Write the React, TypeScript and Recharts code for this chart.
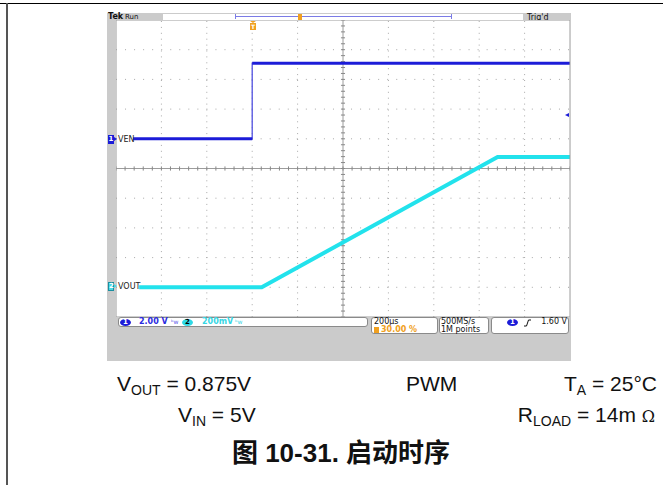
import React from "react";
import { ComposedChart, Line, XAxis, YAxis, ReferenceLine } from "recharts";

// scope settings (10 x 10 divisions)
const xDomain = [-600, 1400]; // µs, 200 µs/div, trigger at 30 %
const ch1Domain = [-12, 8]; // 2.00 V/div, ground 1 div above centre
const ch2Domain = [-0.2, 1.8]; // 200 mV/div, ground 4 div below centre
const divDomain = [-5, 5];

// traces (time in µs, volts)
const venTime = [-525, 0, 0, 1400];
const venVolts = [0, 0, 5.08, 5.08];
const voutTime = [-498, 42, 1081, 1400];
const voutVolts = [0, 0, 0.878, 0.878];

// graticule
const xMajor = [-400, -200, 0, 200, 600, 800, 1000, 1200];
const yMajor = [-4, -3, -2, -1, 1, 2, 3, 4];
const xCentre = 400;
const xSub = Array.from({ length: 51 }, (_, i) => -600 + i * 40);
const ySub = Array.from({ length: 51 }, (_, i) => Math.round((-5 + i * 0.2) * 10) / 10);

const venData = venTime.map((t, i) => ({ t, v: venVolts[i] }));
const voutData = voutTime.map((t, i) => ({ t, v: voutVolts[i] }));

const BLUE = "#1c1cd8";
const CYAN = "#22e2ec";
const ORANGE = "#f0a020";
const DOT = "#a8a8a8";
const EDGE = "#9c9c9c";
const scopeFont = "'DejaVu Sans', sans-serif";

const abs = (left: number, top: number, extra: React.CSSProperties = {}): React.CSSProperties => ({
  position: "absolute",
  left,
  top,
  ...extra,
});

function ScopeText({ x, y, color = "#111", bold = false, size = 8, children }: any) {
  return (
    <div
      style={abs(x, y, {
        fontFamily: scopeFont,
        fontSize: size,
        lineHeight: `${size}px`,
        color,
        fontWeight: bold ? 700 : 400,
        whiteSpace: "nowrap",
      })}
    >
      {children}
    </div>
  );
}

function Screen() {
  return (
    <ComposedChart width={454} height={297} margin={{ top: 0, right: 0, bottom: 0, left: 0 }}>
      <XAxis xAxisId="b" dataKey="t" type="number" domain={xDomain} ticks={xSub} interval={0}
        orientation="bottom" mirror height={1} tickSize={3} tick={false} stroke={EDGE} allowDataOverflow />
      <XAxis xAxisId="top" dataKey="t" type="number" domain={xDomain} ticks={xSub} interval={0}
        orientation="top" mirror height={1} tickSize={3} tick={false} stroke={EDGE} allowDataOverflow />
      <YAxis yAxisId="div" type="number" domain={divDomain} ticks={ySub} interval={0}
        orientation="left" mirror width={1} tickSize={3} tick={false} stroke={EDGE} allowDataOverflow />
      <YAxis yAxisId="divR" type="number" domain={divDomain} ticks={ySub} interval={0}
        orientation="right" mirror width={1} tickSize={3} tick={false} stroke={EDGE} allowDataOverflow />
      <YAxis yAxisId="ch1" type="number" domain={ch1Domain} hide allowDataOverflow />
      <YAxis yAxisId="ch2" type="number" domain={ch2Domain} hide allowDataOverflow />

      {xMajor.map((t) => (
        <ReferenceLine key={"gx" + t} xAxisId="b" yAxisId="div" x={t} stroke={DOT} strokeDasharray="1 4.9" ifOverflow="visible" />
      ))}
      {yMajor.map((v) => (
        <ReferenceLine key={"gy" + v} xAxisId="b" yAxisId="div" y={v} stroke={DOT} strokeDasharray="1 8.04" ifOverflow="visible" />
      ))}
      <ReferenceLine xAxisId="b" yAxisId="div" x={xCentre} stroke={EDGE} ifOverflow="visible" />
      <ReferenceLine xAxisId="b" yAxisId="div" y={0} stroke={EDGE} ifOverflow="visible" />
      {ySub.map((v) => (
        <ReferenceLine key={"cy" + v} xAxisId="b" yAxisId="div" stroke="#888" ifOverflow="visible"
          segment={[{ x: xCentre - 9, y: v }, { x: xCentre + 9, y: v }]} />
      ))}
      {xSub.map((t) => (
        <ReferenceLine key={"cx" + t} xAxisId="b" yAxisId="div" stroke="#888" ifOverflow="visible"
          segment={[{ x: t, y: -0.07 }, { x: t, y: 0.07 }]} />
      ))}

      {/* VEN: thin edge, heavier (noisy) plateaus */}
      <Line xAxisId="b" yAxisId="ch1" data={venData} dataKey="v" type="linear" stroke="#5050e0"
        strokeWidth={1.3} dot={false} isAnimationActive={false} />
      <Line xAxisId="b" yAxisId="ch1" data={venData.slice(0, 2)} dataKey="v" type="linear" stroke={BLUE}
        strokeWidth={3} dot={false} isAnimationActive={false} />
      <Line xAxisId="b" yAxisId="ch1" data={venData.slice(2)} dataKey="v" type="linear" stroke={BLUE}
        strokeWidth={3} dot={false} isAnimationActive={false} />
      <Line xAxisId="b" yAxisId="ch2" data={voutData} dataKey="v" type="linear" stroke={CYAN}
        strokeWidth={4} dot={false} isAnimationActive={false} />
    </ComposedChart>
  );
}

const boxStyle = (left: number, top: number, width: number, height: number): React.CSSProperties =>
  abs(left, top, {
    width,
    height,
    background: "#fff",
    border: "1px solid #8a8a8a",
    borderRadius: 3,
    boxSizing: "border-box",
  });

const pill = (left: number, top: number, bg: string, fg: string, label: string) => (
  <div
    style={abs(left, top, {
      width: 11,
      height: 7,
      borderRadius: "50%",
      background: bg,
      color: fg,
      fontFamily: scopeFont,
      fontSize: 7,
      lineHeight: "7px",
      fontWeight: 700,
      textAlign: "center",
    })}
  >
    {label}
  </div>
);

export default function App() {
  return (
    <div style={abs(0, 0, { width: 663, height: 485, background: "#fff", overflow: "hidden" })}>
      {/* page rules */}
      <div style={abs(0, 2.5, { width: 663, height: 1.5, background: "#000" })} />
      <div style={abs(6, 3, { width: 1.5, height: 482, background: "#555" })} />

      {/* scope bezel */}
      <div style={abs(107, 13, { width: 464, height: 348, background: "#cbcbcb" })} />

      {/* top bar */}
      <div style={abs(163, 14, { width: 360, height: 7, background: "#fff" })} />
      <div style={abs(235, 16, { width: 217, height: 1, background: "#7b7be6" })} />
      <div style={abs(235, 14, { width: 1, height: 5, background: "#7b7be6" })} />
      <div style={abs(451, 14, { width: 1, height: 5, background: "#7b7be6" })} />
      <div style={abs(298, 14, { width: 4, height: 6, background: ORANGE })} />
      <ScopeText x={108} y={13} bold size={8}>Tek</ScopeText>
      <ScopeText x={125} y={13.5} size={7}>Run</ScopeText>
      <ScopeText x={527} y={13.5} size={8}>Trig'd</ScopeText>

      {/* screen */}
      <div style={abs(116, 20, { width: 454, height: 297, background: "#fff" })} />
      <div style={abs(116, 20)}>
        <Screen />
      </div>

      {/* trigger position marker */}
      <div style={abs(250, 21, { width: 0, height: 0, borderLeft: "3px solid transparent", borderRight: "3px solid transparent", borderTop: `2px solid ${ORANGE}` })} />
      <div style={abs(250, 23, { width: 6, height: 7, background: ORANGE, color: "#fff", fontFamily: scopeFont, fontSize: 6, lineHeight: "7px", fontWeight: 700, textAlign: "center" })}>T</div>

      {/* ground markers */}
      <div style={abs(108, 135, { width: 6, height: 9, background: BLUE, color: "#fff", fontFamily: scopeFont, fontSize: 7, lineHeight: "9px", fontWeight: 700, textAlign: "center" })}>1</div>
      <div style={abs(114, 137, { width: 0, height: 0, borderTop: "2.5px solid transparent", borderBottom: "2.5px solid transparent", borderLeft: `3px solid ${BLUE}` })} />
      <ScopeText x={118} y={135.5} color="#222">VEN</ScopeText>
      <div style={abs(108, 282, { width: 6, height: 9, background: "#48d8e6", border: "1px solid #1a8fa0", boxSizing: "border-box", color: "#fff", fontFamily: scopeFont, fontSize: 7, lineHeight: "7px", fontWeight: 700, textAlign: "center" })}>2</div>
      <div style={abs(114, 284, { width: 0, height: 0, borderTop: "2.5px solid transparent", borderBottom: "2.5px solid transparent", borderLeft: "3px solid #48d8e6" })} />
      <ScopeText x={118} y={282.5} color="#222">VOUT</ScopeText>

      {/* trigger level */}
      <div style={abs(565, 113, { width: 0, height: 0, borderTop: "2.5px solid transparent", borderBottom: "2.5px solid transparent", borderRight: `4px solid ${BLUE}` })} />

      {/* status readouts */}
      <div style={boxStyle(118, 317, 250, 10)} />
      {pill(120, 318.5, BLUE, "#fff", "1")}
      <ScopeText x={139} y={318} color="#2a2ae0" bold>2.00 V</ScopeText>
      <ScopeText x={171} y={318.5} color="#5a5ae6" size={6}>ᵇw</ScopeText>
      {pill(182, 318.5, "#2ed9e6", "#000", "2")}
      <ScopeText x={202} y={318} color="#36d6e4" bold>200mV</ScopeText>
      <ScopeText x={235} y={318.5} color="#36d6e4" size={6}>ᵇw</ScopeText>

      <div style={boxStyle(371, 317, 67, 17)} />
      <ScopeText x={374} y={318}>200µs</ScopeText>
      <div style={abs(374, 326.5, { width: 5, height: 6, background: ORANGE })} />
      <ScopeText x={381} y={326} color={ORANGE} bold>30.00 %</ScopeText>

      <div style={boxStyle(439, 317, 50, 17)} />
      <ScopeText x={441} y={318}>500MS/s</ScopeText>
      <ScopeText x={441} y={326}>1M points</ScopeText>

      <div style={boxStyle(491, 317, 78, 17)} />
      {pill(507, 318.5, BLUE, "#fff", "1")}
      <svg style={abs(524, 318.5)} width={8} height={8}>
        <polyline points="0,7 2.5,7 4.5,1 7,1" fill="none" stroke="#111" strokeWidth={1} />
      </svg>
      <div style={abs(520, 318, { width: 47, textAlign: "right", fontFamily: scopeFont, fontSize: 8, lineHeight: "8px", color: "#111" })}>1.60 V</div>

      {/* test conditions and caption */}
      <svg style={abs(0, 0)} width={663} height={485}>
        <g fontFamily="'Liberation Sans', Arial, sans-serif" fontSize={21} fill="#111">
          <text x={117} y={391}>
            V<tspan fontSize={14} dy={4}>OUT</tspan><tspan dy={-4}> = 0.875V</tspan>
          </text>
          <text x={406} y={391}>PWM</text>
          <text x={657} y={391} textAnchor="end">
            T<tspan fontSize={14} dy={4}>A</tspan><tspan dy={-4}> = 25°C</tspan>
          </text>
          <text x={178} y={422}>
            V<tspan fontSize={14} dy={4}>IN</tspan><tspan dy={-4}> = 5V</tspan>
          </text>
          <text x={655} y={422} textAnchor="end">
            R<tspan fontSize={14} dy={4}>LOAD</tspan><tspan dy={-4}> = 14m </tspan><tspan fontSize={16} fontFamily="'DejaVu Serif', serif">Ω</tspan>
          </text>
        </g>
        <text x={341} y={462} textAnchor="middle" fontSize={26} fontWeight={700} fill="#111"
          fontFamily="'Liberation Sans', 'Noto Sans CJK SC', sans-serif">
          图 10-31. 启动时序
        </text>
      </svg>
    </div>
  );
}
